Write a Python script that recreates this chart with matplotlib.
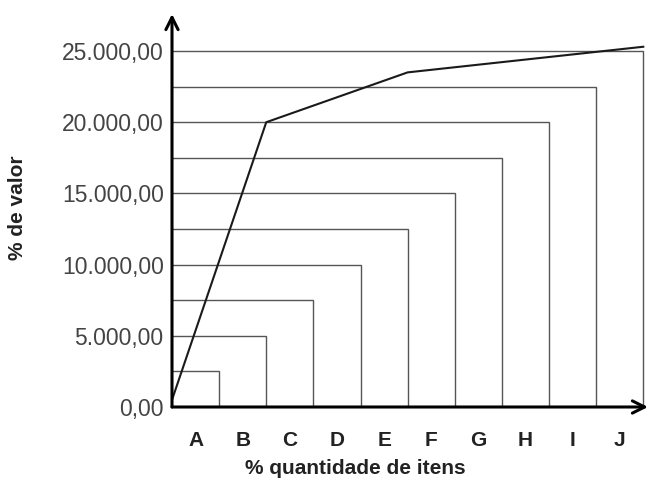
import matplotlib
matplotlib.use("Agg")
import matplotlib.pyplot as plt
from matplotlib.ticker import FuncFormatter

# data
categorias = ["A", "B", "C", "D", "E", "F", "G", "H", "I", "J"]
limites_x = [1, 2, 3, 4, 5, 6, 7, 8, 9, 10]
niveis_y = [2500, 5000, 7500, 10000, 12500, 15000, 17500, 20000, 22500, 25000]
curva_x = [0, 2, 5, 10]
curva_y = [500, 20000, 23500, 25300]
yticks = [0, 5000, 10000, 15000, 20000, 25000]

plt.rcParams['font.family'] = ['Liberation Sans', 'DejaVu Sans']

fig = plt.figure(figsize=(6.48, 4.87), dpi=100)
ax = fig.add_axes([172/648, 80/487, 476/648, 393/487])
ax.set_xlim(0, 10.1)
ax.set_ylim(0, 27600)

# nested rectangles
for xi, yi in zip(limites_x, niveis_y):
    ax.plot([0, xi, xi], [yi, yi, 0], color="#555555", lw=1.0,
            solid_joinstyle="miter", zorder=2)

# curve
ax.plot(curva_x, curva_y, color="#1a1a1a", lw=1.5, zorder=3)

# axes with arrows
for s in ax.spines.values():
    s.set_visible(False)
ax.annotate("", xy=(0, 27600), xytext=(0, 0),
            arrowprops=dict(arrowstyle="->", lw=2.2, color="black",
                            mutation_scale=22, shrinkA=0, shrinkB=0),
            annotation_clip=False, zorder=4)
ax.annotate("", xy=(10.1, 0), xytext=(0, 0),
            arrowprops=dict(arrowstyle="->", lw=2.2, color="black",
                            mutation_scale=22, shrinkA=0, shrinkB=0),
            annotation_clip=False, zorder=4)

def fmt_br(v, pos):
    s = f"{v:,.2f}"
    return s.replace(",", "X").replace(".", ",").replace("X", ".")

ax.set_yticks(yticks)
ax.yaxis.set_major_formatter(FuncFormatter(fmt_br))
ax.tick_params(axis="y", length=0, pad=6, labelsize=16.5, labelcolor="#444444")
ax.set_xticks([x - 0.5 for x in limites_x])
ax.set_xticklabels(categorias, fontweight="bold")
ax.tick_params(axis="x", length=0, pad=17, labelsize=15, labelcolor="#222222")

fig.text(355/648, 1 - 468/487, "% quantidade de itens", ha="center", va="center",
         fontsize=15, fontweight="bold", color="#222222")
fig.text(18/648, 1 - 208/487, "% de valor", ha="center", va="center",
         rotation=90, fontsize=15, fontweight="bold", color="#222222")

fig.savefig("out.png", dpi=100)
